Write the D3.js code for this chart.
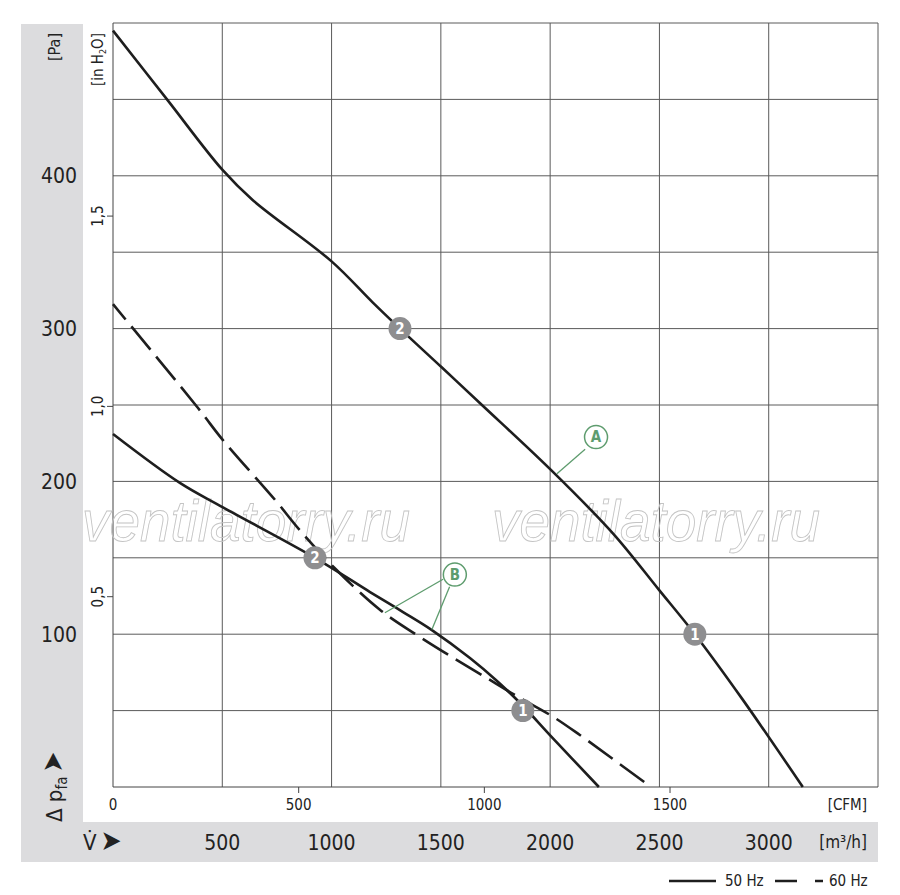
<!DOCTYPE html>
<html lang="ru">
<head>
<meta charset="utf-8">
<title>Fan curve</title>
<script src="https://d3js.org/d3.v7.min.js"></script>
<style>
  body { margin: 0; background: #fff; }
  text { font-family: "Liberation Sans Narrow", "DejaVu Sans Condensed", "Liberation Sans", sans-serif; fill: #222; }
  .big { font-size: 21px; }
  .small { font-size: 15px; }
  .wm { font-family: "Liberation Sans", sans-serif; font-style: italic; font-size: 57px; fill: none; stroke: #c4c4c4; stroke-width: 0.9; }
</style>
</head>
<body>
<div id="chart"></div>
<script>
  // air flow in m3/h, pressure in Pa
  var flowA = [0, 247, 500, 640, 1000, 1189, 1313, 1505, 1688, 2000, 2287, 2498, 2662, 2877, 3156];
  var pressA = [495, 450, 404, 384, 344, 317, 300, 274.5, 250, 208, 166, 129, 100, 58, 0];

  var flowB = [0, 306, 503, 924, 1176, 1327, 1459, 1633, 1757, 1876, 1999, 2223];
  var pressB = [231, 199, 183, 150, 127.6, 114.5, 102.7, 84.4, 69.4, 53, 34, 0];

  var flowB60 = [0, 389, 503, 741, 855, 1016, 1221, 1395, 1551, 1702, 1853, 2013, 2136, 2461];
  var pressB60 = [316, 248, 227, 188, 168, 143, 116, 99, 85, 72, 59, 46, 34, 0];

  var pointMarks = [
    {label: '2', q: 1313, p: 300},
    {label: '1', q: 2662, p: 100},
    {label: '2', q: 924, p: 150},
    {label: '1', q: 1875, p: 50}
  ];

  var paTicks = [100, 200, 300, 400];
  var m3hTicks = [500, 1000, 1500, 2000, 2500, 3000];
  var cfmTicks = [0, 500, 1000, 1500];
  var inh2oTicks = [0.5, 1.0, 1.5];

  var w = 900, h = 895;
  var x = d3.scaleLinear().domain([0, 3500]).range([113, 878]);
  var y = d3.scaleLinear().domain([0, 500]).range([787, 23]);
  var CFM = 1.699;   // m3/h per CFM
  var INH2O = 249.09; // Pa per inch H2O

  var svg = d3.select('#chart').append('svg')
    .attr('width', w)
    .attr('height', h);

  // grey bands
  svg.append('rect').attr('x', 21).attr('y', 24).attr('width', 62).attr('height', 838).attr('fill', '#dcdcde');
  svg.append('rect').attr('x', 83).attr('y', 822).attr('width', 795).attr('height', 40).attr('fill', '#dcdcde');

  // grid
  var grid = svg.append('g').attr('stroke', '#5a5a5a').attr('stroke-width', 1);
  grid.selectAll('line.v')
    .data(d3.range(500, 3501, 500))
    .enter().append('line')
    .attr('x1', function(d) { return x(d); })
    .attr('x2', function(d) { return x(d); })
    .attr('y1', y(500)).attr('y2', y(0));
  grid.selectAll('line.h')
    .data(d3.range(50, 501, 50))
    .enter().append('line')
    .attr('x1', x(0)).attr('x2', x(3500))
    .attr('y1', function(d) { return y(d); })
    .attr('y2', function(d) { return y(d); });
  // axes lines
  svg.append('line').attr('x1', x(0)).attr('x2', x(0)).attr('y1', y(500)).attr('y2', y(0)).attr('stroke', '#444');
  svg.append('line').attr('x1', x(0)).attr('x2', x(3500)).attr('y1', y(0)).attr('y2', y(0)).attr('stroke', '#444');

  // watermark
  svg.append('text').attr('class', 'wm').attr('x', 82).attr('y', 541)
    .attr('textLength', 328).attr('lengthAdjust', 'spacingAndGlyphs').text('ventilatorry.ru');
  svg.append('text').attr('class', 'wm').attr('x', 492).attr('y', 541)
    .attr('textLength', 328).attr('lengthAdjust', 'spacingAndGlyphs').text('ventilatorry.ru');

  // Pa tick labels
  svg.selectAll('text.pa')
    .data(paTicks)
    .enter().append('text')
    .attr('class', 'pa big')
    .attr('x', 77)
    .attr('y', function(d) { return y(d); })
    .attr('dy', '0.36em')
    .attr('text-anchor', 'end')
    .text(function(d) { return d; });

  // in H2O ticks
  var inG = svg.append('g');
  inG.selectAll('line')
    .data(inh2oTicks)
    .enter().append('line')
    .attr('x1', 107).attr('x2', 113)
    .attr('y1', function(d) { return y(d * INH2O); })
    .attr('y2', function(d) { return y(d * INH2O); })
    .attr('stroke', '#444');
  inG.selectAll('text')
    .data(inh2oTicks)
    .enter().append('text')
    .attr('class', 'small')
    .attr('text-anchor', 'middle')
    .attr('transform', function(d) { return 'translate(103,' + y(d * INH2O) + ') rotate(-90)'; })
    .text(function(d) { return d.toFixed(1).replace('.', ','); });

  // CFM ticks
  var cfmG = svg.append('g');
  cfmG.selectAll('line')
    .data(cfmTicks.slice(1))
    .enter().append('line')
    .attr('x1', function(d) { return x(d * CFM); })
    .attr('x2', function(d) { return x(d * CFM); })
    .attr('y1', 787).attr('y2', 793)
    .attr('stroke', '#444');
  cfmG.selectAll('text')
    .data(cfmTicks)
    .enter().append('text')
    .attr('class', 'small')
    .attr('x', function(d) { return x(d * CFM); })
    .attr('y', 810)
    .attr('text-anchor', 'middle')
    .text(function(d) { return d; });
  svg.append('text').attr('class', 'small').attr('x', 867).attr('y', 810).attr('text-anchor', 'end').text('[CFM]');

  // m3/h labels
  svg.selectAll('text.m3h')
    .data(m3hTicks)
    .enter().append('text')
    .attr('class', 'm3h big')
    .attr('x', function(d) { return x(d); })
    .attr('y', 842)
    .attr('dy', '0.36em')
    .attr('text-anchor', 'middle')
    .text(function(d) { return d; });
  svg.append('text').attr('x', 867).attr('y', 842).attr('dy', '0.36em')
    .attr('text-anchor', 'end').style('font-size', '17px').text('[m³/h]');

  // axis titles
  svg.append('text').attr('class', 'small').attr('text-anchor', 'end')
    .attr('transform', 'translate(60,33) rotate(-90)').style('font-size', '16px').text('[Pa]');
  var inT = svg.append('text').attr('class', 'small').attr('text-anchor', 'end')
    .attr('transform', 'translate(103,33) rotate(-90)');
  inT.append('tspan').text('[in H');
  inT.append('tspan').attr('dy', 3).style('font-size', '9px').text('2');
  inT.append('tspan').attr('dy', -3).text('O]');

  var dp = svg.append('text').style('font-size', '22px')
    .attr('transform', 'translate(62,822) rotate(-90)');
  dp.append('tspan').text('Δ p');
  dp.append('tspan').attr('dy', 5).style('font-size', '15px').text('fa');
  dp.append('tspan').attr('dy', -5).attr('dx', 4).style('font-size', '28px').text('➤');

  var vt = svg.append('text').attr('x', 83).attr('y', 842).attr('dy', '0.36em').style('font-size', '22px');
  vt.append('tspan').text('V̇');
  vt.append('tspan').attr('dx', 4).style('font-size', '28px').text('➤');

  // curves
  var line = d3.line()
    .x(function(d) { return x(d[0]); })
    .y(function(d) { return y(d[1]); })
    .curve(d3.curveCatmullRom.alpha(0.5));

  function pairs(a, b) { return a.map(function(v, i) { return [v, b[i]]; }); }

  var curves = svg.append('g').attr('fill', 'none').attr('stroke', '#1e1e1e').attr('stroke-width', 2.6);
  curves.append('path').attr('d', line(pairs(flowA, pressA)));
  curves.append('path').attr('d', line(pairs(flowB, pressB)));
  curves.append('path').attr('d', line(pairs(flowB60, pressB60)))
    .attr('stroke-dasharray', '30,9').attr('stroke-dashoffset', 10);

  // callouts A and B
  var green = '#5e9c6e';
  var callG = svg.append('g');
  callG.append('line')
    .attr('x1', x(2160)).attr('y1', y(221))
    .attr('x2', x(2031)).attr('y2', y(205))
    .attr('stroke', green).attr('stroke-width', 1.3);
  callG.append('line')
    .attr('x1', x(1510)).attr('y1', y(136))
    .attr('x2', x(1244)).attr('y2', y(114))
    .attr('stroke', green).attr('stroke-width', 1.3);
  callG.append('line')
    .attr('x1', x(1540)).attr('y1', y(131))
    .attr('x2', x(1459)).attr('y2', y(103))
    .attr('stroke', green).attr('stroke-width', 1.3);

  var callouts = [
    {label: 'A', q: 2210, p: 229},
    {label: 'B', q: 1564, p: 139}
  ];
  var cg = callG.selectAll('g.c')
    .data(callouts)
    .enter().append('g')
    .attr('transform', function(d) { return 'translate(' + x(d.q) + ',' + y(d.p) + ')'; });
  cg.append('circle').attr('r', 11.5).attr('fill', '#fff').attr('stroke', green).attr('stroke-width', 1.5);
  cg.append('text').attr('text-anchor', 'middle').attr('dy', '0.36em')
    .style('font-size', '15px').style('font-weight', 'bold').style('fill', green)
    .text(function(d) { return d.label; });

  // operating point markers
  var pm = svg.selectAll('g.pm')
    .data(pointMarks)
    .enter().append('g')
    .attr('transform', function(d) { return 'translate(' + x(d.q) + ',' + y(d.p) + ')'; });
  pm.append('circle').attr('r', 11.5).attr('fill', '#8e8e90');
  pm.append('text').attr('text-anchor', 'middle').attr('dy', '0.36em')
    .style('font-size', '15px').style('font-weight', 'bold').style('fill', '#fff')
    .text(function(d) { return d.label; });

  // legend
  var lg = svg.append('g').attr('stroke', '#1e1e1e').attr('stroke-width', 2.6);
  lg.append('line').attr('x1', 669).attr('x2', 716).attr('y1', 881).attr('y2', 881);
  lg.append('line').attr('x1', 775).attr('x2', 823).attr('y1', 881).attr('y2', 881).attr('stroke-dasharray', '22,18');
  svg.append('text').attr('class', 'small').attr('x', 725).attr('y', 881).attr('dy', '0.36em').text('50 Hz');
  svg.append('text').attr('class', 'small').attr('x', 829).attr('y', 881).attr('dy', '0.36em').text('60 Hz');
</script>
</body>
</html>
